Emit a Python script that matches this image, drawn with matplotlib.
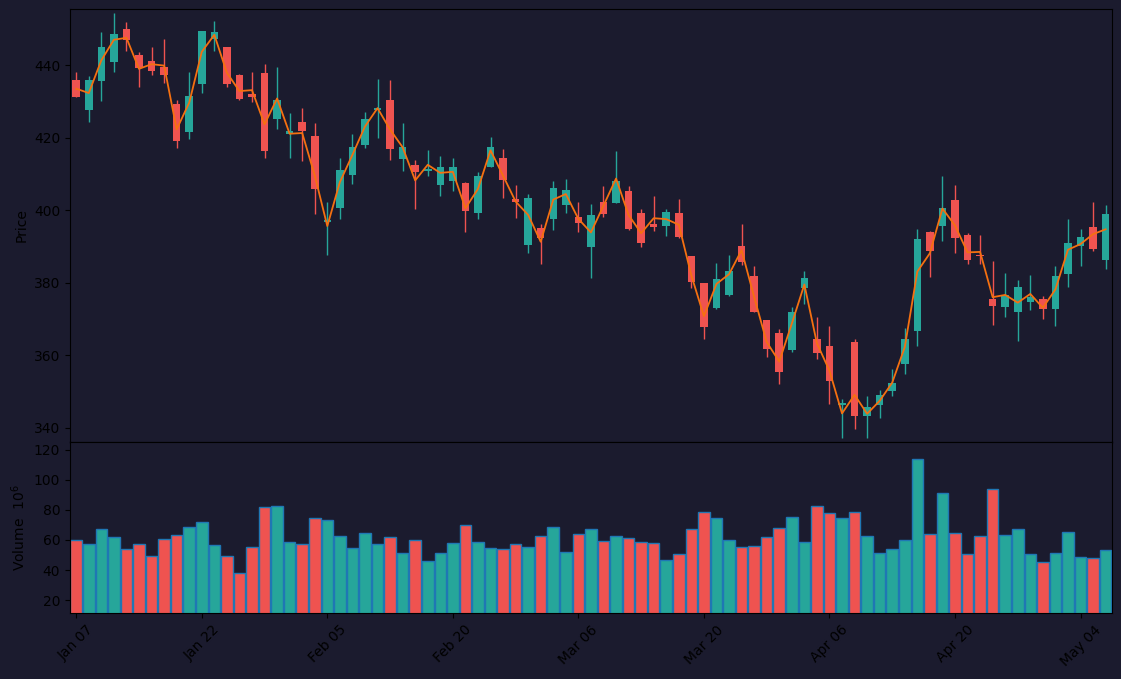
import matplotlib
matplotlib.use("Agg")
import matplotlib.pyplot as plt
import numpy as np

# daily OHLC + volume (volume in millions)
opens = [435.9, 427.8, 435.7, 441.0, 450.2, 442.9, 441.1, 439.5, 429.3, 421.7,
         434.9, 447.4, 445.0, 437.3, 432.1, 437.9, 425.3, 421.1, 424.3, 420.5,
         396.8, 400.7, 409.8, 418.1, 427.8, 430.4, 414.2, 412.5, 411.0, 407.0,
         408.1, 407.5, 399.3, 412.0, 414.4, 403.1, 390.5, 395.1, 397.6, 401.5,
         398.1, 389.9, 402.2, 402.1, 405.3, 399.2, 396.4, 395.7, 399.2, 387.3,
         379.9, 373.1, 376.6, 390.1, 381.8, 369.9, 366.1, 361.5, 378.5, 364.5,
         362.7, 346.4, 363.8, 343.2, 346.3, 350.1, 357.6, 366.7, 394.0, 395.7,
         402.8, 393.1, 387.7, 375.5, 373.3, 372.0, 374.7, 375.5, 372.8, 382.4,
         390.2, 395.3, 386.3]
highs = [438.3, 437.0, 449.1, 454.4, 451.9, 443.8, 445.2, 447.2, 430.6, 438.1,
         449.4, 452.4, 445.0, 437.6, 438.3, 440.3, 439.7, 427.0, 428.4, 424.1,
         402.2, 414.6, 421.2, 427.2, 436.4, 436.1, 424.0, 413.8, 416.8, 415.1,
         414.6, 407.8, 410.7, 420.4, 416.9, 407.1, 404.6, 396.4, 408.2, 408.6,
         402.4, 401.7, 406.7, 416.3, 406.7, 400.3, 403.9, 400.3, 403.1, 387.3,
         380.1, 385.4, 387.6, 396.4, 384.6, 369.9, 367.4, 373.5, 383.2, 370.5,
         368.0, 348.1, 364.6, 348.8, 350.5, 356.3, 367.6, 394.8, 394.2, 409.4,
         406.9, 393.8, 393.1, 386.1, 382.8, 380.9, 382.3, 376.5, 384.8, 397.7,
         394.8, 402.2, 401.6]
lows = [431.2, 424.3, 430.2, 438.1, 443.9, 434.2, 437.4, 435.3, 417.3, 419.6,
        432.5, 443.9, 434.1, 430.5, 430.0, 414.6, 422.6, 414.6, 413.7, 399.0,
        387.6, 397.7, 407.4, 417.1, 420.1, 413.9, 410.9, 400.5, 409.5, 404.1,
        405.5, 394.1, 397.7, 412.0, 403.5, 398.0, 388.3, 385.3, 394.7, 399.4,
        394.1, 381.4, 398.3, 402.1, 394.6, 389.9, 394.3, 393.0, 392.4, 378.7,
        364.6, 372.8, 376.4, 384.9, 371.9, 359.5, 352.1, 360.9, 374.2, 359.0,
        346.5, 337.1, 339.6, 337.1, 342.7, 348.7, 354.9, 362.6, 381.6, 391.6,
        388.3, 385.2, 385.2, 368.5, 370.6, 364.0, 372.5, 370.1, 368.1, 378.9,
        384.8, 388.8, 383.9]
closes = [431.3, 435.9, 445.0, 448.8, 447.1, 439.2, 438.5, 437.4, 419.2, 431.5,
          449.4, 449.1, 434.9, 430.7, 431.3, 416.4, 430.4, 421.9, 422.0, 405.9,
          397.3, 411.1, 417.4, 425.2, 428.2, 417.0, 417.4, 410.6, 411.5, 411.9,
          411.9, 399.9, 409.4, 417.4, 408.4, 402.3, 403.4, 392.4, 406.1, 405.6,
          396.5, 398.7, 399.0, 408.0, 394.9, 391.0, 395.4, 399.5, 392.7, 380.2,
          367.8, 381.0, 383.2, 385.8, 371.9, 361.7, 355.4, 371.9, 381.3, 360.6,
          352.9, 346.8, 343.2, 345.8, 349.2, 352.5, 364.4, 392.0, 388.8, 400.6,
          392.4, 386.3, 387.4, 373.6, 376.7, 378.8, 376.1, 372.8, 381.8, 390.9,
          392.6, 389.4, 398.9]
volumes = [59.7, 57.1, 67.0, 61.7, 53.8, 57.1, 49.1, 60.4, 63.0, 68.3,
           71.7, 56.4, 49.1, 37.9, 55.1, 81.6, 82.9, 58.4, 57.1, 74.3,
           73.0, 62.4, 54.4, 64.4, 57.1, 61.7, 51.1, 59.7, 45.8, 51.1,
           57.7, 69.7, 58.4, 54.4, 53.8, 57.1, 55.1, 62.4, 68.3, 51.8,
           63.7, 67.0, 59.1, 62.4, 61.1, 58.4, 57.7, 46.5, 50.5, 67.0,
           78.9, 74.3, 59.7, 55.1, 55.8, 61.7, 67.7, 75.6, 58.4, 82.9,
           77.6, 74.3, 78.9, 62.4, 51.1, 53.8, 59.7, 114.0, 63.7, 90.9,
           64.4, 50.5, 62.4, 94.2, 63.0, 67.0, 50.5, 45.2, 51.1, 65.0,
           48.5, 47.8, 53.1]
tick_labels = ["Jan 07", "Jan 22", "Feb 05", "Feb 20", "Mar 06",
               "Mar 20", "Apr 06", "Apr 20", "May 04"]

o = np.array(opens)
h = np.array(highs)
l = np.array(lows)
c = np.array(closes)
v = np.array(volumes)
x = np.arange(len(c))

up_col = "#26a69a"
dn_col = "#ef5350"
bg = "#1b1b2e"
cols = np.where(c >= o, up_col, dn_col)

fig = plt.figure(figsize=(11.21, 6.79), dpi=100, facecolor=bg)
ax = fig.add_axes([0.0624, 0.3495, 0.9295, 0.6368], facecolor=bg)
axv = fig.add_axes([0.0624, 0.0972, 0.9295, 0.2523], facecolor=bg, sharex=ax)

# candles
ax.vlines(x, l, h, colors=cols, linewidth=1)
body_lo = np.minimum(o, c)
body_h = np.abs(c - o)
body_h = np.where(body_h < 0.3, 0.3, body_h)
ax.bar(x, body_h, bottom=body_lo, width=0.6, color=cols, linewidth=0)

# typical price line
typ = (h + l + c) / 3
ax.plot(x, typ, color="#f57010", linewidth=1.3)

ax.set_xlim(-0.5, len(c) - 0.5)
ax.set_ylim(336.2, 455.5)
ax.set_yticks(np.arange(340, 441, 20))
ax.set_ylabel("Price")
plt.setp(ax.get_xticklabels(), visible=False)

# volume
axv.bar(x, v, width=0.92, color=cols, edgecolor="#1f77b4", linewidth=1)
axv.set_ylim(11.5, 125.3)
axv.set_yticks(np.arange(20, 121, 20))
axv.set_ylabel("Volume  $10^{6}$")
axv.set_xticks(np.arange(0, len(c), 10))
axv.set_xticklabels(tick_labels, rotation=45)

fig.savefig("out.png", facecolor=bg)
